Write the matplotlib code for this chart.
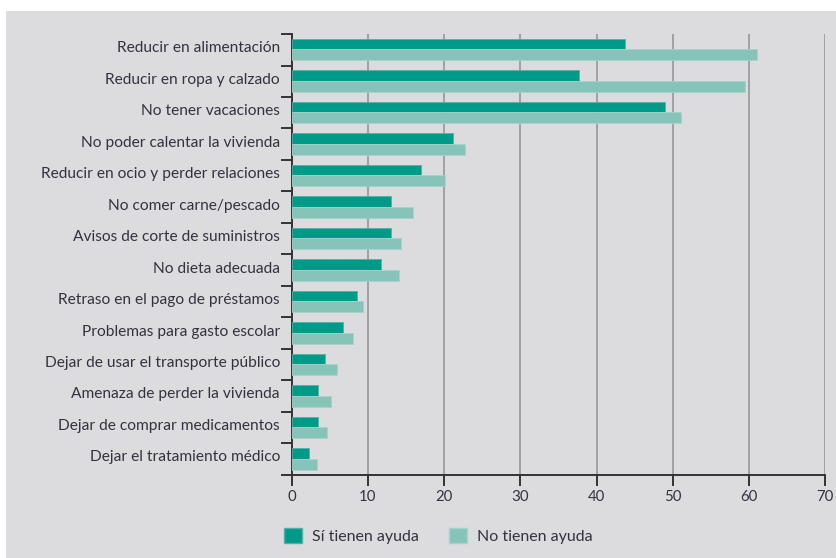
import numpy as np
import matplotlib.pyplot as plt
from matplotlib.patches import Rectangle, Patch

categorias = [
    "Reducir en alimentación",
    "Reducir en ropa y calzado",
    "No tener vacaciones",
    "No poder calentar la vivienda",
    "Reducir en ocio y perder relaciones",
    "No comer carne/pescado",
    "Avisos de corte de suministros",
    "No dieta adecuada",
    "Retraso en el pago de préstamos",
    "Problemas para gasto escolar",
    "Dejar de usar el transporte público",
    "Amenaza de perder la vivienda",
    "Dejar de comprar medicamentos",
    "Dejar el tratamiento médico",
]
si_ayuda = [43.8, 37.7, 49.0, 21.2, 16.9, 13.0, 13.0, 11.7, 8.5, 6.7, 4.3, 3.5, 3.5, 2.2]
no_ayuda = [61.1, 59.5, 51.1, 22.8, 20.1, 15.9, 14.3, 14.1, 9.3, 8.0, 5.9, 5.1, 4.6, 3.3]
ticks_x = [0, 10, 20, 30, 40, 50, 60, 70]

verde_oscuro = "#009a88"
verde_claro = "#86c3b9"
fondo = "#dcdcde"
texto = "#333340"

plt.rcParams["font.family"] = ["Lato", "DejaVu Sans"]

fig = plt.figure(figsize=(8.36, 5.58), dpi=100, facecolor="white")
# recuadro gris de fondo, por debajo de todo
fig.add_artist(Rectangle((0.007, 0), 1, 0.98, transform=fig.transFigure,
                         facecolor=fondo, edgecolor="none", zorder=-10))

ax = fig.add_axes([0.349, 0.149, 0.638, 0.79])
ax.set_zorder(1)
ax.set_facecolor(fondo)

y = np.arange(len(categorias)) + 0.5
h = 0.34
ax.barh(y - h / 2 - 0.01, si_ayuda, height=h, color=verde_oscuro,
        edgecolor="#4fb3a6", linewidth=0.6, zorder=3)
ax.barh(y + h / 2 - 0.01, no_ayuda, height=h, color=verde_claro,
        edgecolor="#a6d3cc", linewidth=0.6, zorder=3)

ax.set_xlim(0, 70)
ax.set_ylim(len(categorias), 0)
ax.set_xticks(ticks_x)
ax.set_xticklabels([str(t) for t in ticks_x])
ax.xaxis.grid(True, color="#9c9c9e", linewidth=1.3, zorder=1)
ax.set_axisbelow(True)

# marcas en los límites de cada categoría, etiquetas algo por encima del centro
ax.set_yticks(np.arange(len(categorias) + 1))
ax.set_yticklabels([])
ax.set_yticks(y - 0.1, minor=True)
ax.set_yticklabels(categorias, minor=True)
ax.tick_params(axis="y", which="major", length=8, width=1.4, color="#333333")
ax.tick_params(axis="y", which="minor", length=0, pad=8.5, labelsize=11.2, labelcolor=texto)
ax.tick_params(axis="x", length=8, width=1.4, color="#333333", labelsize=10.8,
               labelcolor=texto, pad=3)

for s in ["top", "right"]:
    ax.spines[s].set_visible(False)
for s in ["left", "bottom"]:
    ax.spines[s].set_color("#333333")
    ax.spines[s].set_linewidth(1.4)

handles = [Patch(facecolor=verde_oscuro, edgecolor="#4fb3a6", label="Sí tienen ayuda"),
           Patch(facecolor=verde_claro, edgecolor="#a6d3cc", label="No tienen ayuda")]
fig.legend(handles=handles, loc="center left", bbox_to_anchor=(0.322, 0.04), ncol=2,
           frameon=False, fontsize=11.5, handlelength=1.15, handleheight=1.15,
           columnspacing=1.9, handletextpad=0.6, labelcolor=texto)

fig.savefig("out.png", dpi=100, facecolor=fig.get_facecolor())
